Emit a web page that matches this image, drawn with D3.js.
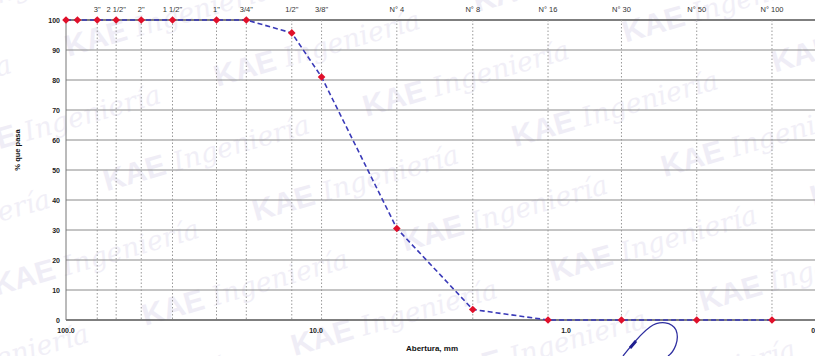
<!DOCTYPE html>
<html>
<head>
<meta charset="utf-8">
<script src="https://cdn.jsdelivr.net/npm/d3@7"></script>
<style>
body { margin: 0; background: #fff; }
svg { display: block; font-family: "Liberation Sans", Arial, sans-serif; }
</style>
</head>
<body>
<div id="chart"></div>
<script>
// sieve openings (mm) and % passing
var aberturas = [100, 90, 75, 63, 50, 37.5, 25, 19, 12.5, 9.5, 4.75, 2.36, 1.18, 0.6, 0.3, 0.15];
var pasa = [100, 100, 100, 100, 100, 100, 100, 100, 95.7, 81, 30.5, 3.5, 0, 0, 0, 0];

// named sieves on the top axis
var tamices = [75, 63, 50, 37.5, 25, 19, 12.5, 9.5, 4.75, 2.36, 1.18, 0.6, 0.3, 0.15];
var tamizLabels = ['3"', '2 1/2"', '2"', '1 1/2"', '1"', '3/4"', '1/2"', '3/8"',
    "N° 4", "N° 8", "N° 16", "N° 30", "N° 50", "N° 100"];

var xTicks = [100, 10, 1, 0.1];
var yTicks = [0, 10, 20, 30, 40, 50, 60, 70, 80, 90, 100];

var width = 815, height = 356;
var margin = {top: 20, left: 66, bottom: 36};

var x = d3.scaleLog()
    .domain([100, 0.1])
    .range([margin.left, margin.left + 750]);

var y = d3.scaleLinear()
    .domain([0, 100])
    .range([height - margin.bottom, margin.top]);

var svg = d3.select("#chart")
    .append("svg")
    .attr("width", width)
    .attr("height", height);

// watermark, kept inside the picture
svg.append("clipPath")
    .attr("id", "wmclip")
    .append("rect")
    .attr("width", width)
    .attr("height", height);

var wm = svg.append("g")
    .attr("clip-path", "url(#wmclip)")
    .append("g")
    .attr("transform", "rotate(-16 400 180)")
    .style("pointer-events", "none");
for (var r = -2; r < 7; r++) {
    for (var c = -1; c < 5; c++) {
        var ox = c * 270 + (r % 2 ? 135 : 0) - 20;
        var oy = r * 70 + 40;
        wm.append("text")
            .attr("x", ox)
            .attr("y", oy)
            .attr("font-size", 30)
            .attr("font-weight", "bold")
            .attr("fill", "#efedf6")
            .text("KAE");
        wm.append("text")
            .attr("x", ox + 72)
            .attr("y", oy)
            .attr("font-size", 27)
            .attr("font-style", "italic")
            .attr("font-family", "DejaVu Serif, serif")
            .attr("fill", "#f1eff7")
            .text("Ingeniería");
    }
}

// horizontal grid
svg.append("g")
    .selectAll("line")
    .data(yTicks)
    .enter()
    .append("line")
    .attr("x1", margin.left)
    .attr("x2", width)
    .attr("y1", function(d) { return y(d); })
    .attr("y2", function(d) { return y(d); })
    .attr("stroke", function(d) { return d == 0 || d == 100 ? "#555" : "#8a8a8a"; })
    .attr("stroke-width", function(d) { return d == 0 || d == 100 ? 1.4 : 1; });

// vertical dotted sieve lines
svg.append("g")
    .selectAll("line")
    .data(tamices)
    .enter()
    .append("line")
    .attr("x1", function(d) { return x(d); })
    .attr("x2", function(d) { return x(d); })
    .attr("y1", y(100))
    .attr("y2", y(0))
    .attr("stroke", "#999")
    .attr("stroke-dasharray", "1.5,2");

// left axis line
svg.append("line")
    .attr("x1", margin.left)
    .attr("x2", margin.left)
    .attr("y1", y(100))
    .attr("y2", y(0))
    .attr("stroke", "#777")
    .attr("stroke-width", 1);

// top sieve labels
svg.append("g")
    .selectAll("text")
    .data(tamices)
    .enter()
    .append("text")
    .attr("x", function(d) { return x(d); })
    .attr("y", 12)
    .attr("text-anchor", "middle")
    .attr("font-size", 7.5)
    .attr("fill", "#333")
    .text(function(d, i) { return tamizLabels[i]; });

// y tick labels
svg.append("g")
    .selectAll("text")
    .data(yTicks)
    .enter()
    .append("text")
    .attr("x", 60)
    .attr("y", function(d) { return y(d) + 2.5; })
    .attr("text-anchor", "end")
    .attr("font-size", 7)
    .attr("font-weight", "bold")
    .attr("fill", "#222")
    .text(function(d) { return d; });

// x tick labels
svg.append("g")
    .selectAll("text")
    .data(xTicks)
    .enter()
    .append("text")
    .attr("x", function(d) { return x(d); })
    .attr("y", 333)
    .attr("text-anchor", "middle")
    .attr("font-size", 7)
    .attr("font-weight", "bold")
    .attr("fill", "#222")
    .text(function(d) { return d.toFixed(1); });

// axis titles
svg.append("text")
    .attr("x", 432)
    .attr("y", 351)
    .attr("text-anchor", "middle")
    .attr("font-size", 8)
    .attr("font-weight", "bold")
    .attr("fill", "#111")
    .text("Abertura, mm");

svg.append("text")
    .attr("transform", "translate(20,150) rotate(-90)")
    .attr("text-anchor", "middle")
    .attr("font-size", 7.5)
    .attr("font-weight", "bold")
    .attr("fill", "#111")
    .text("% que pasa");

// curve
var line = d3.line()
    .x(function(d, i) { return x(aberturas[i]); })
    .y(function(d) { return y(d); });

svg.append("path")
    .datum(pasa)
    .attr("d", line)
    .attr("fill", "none")
    .attr("stroke", "#3a3ab8")
    .attr("stroke-width", 1.6)
    .attr("stroke-dasharray", "5,3");

svg.append("g")
    .selectAll("rect")
    .data(pasa)
    .enter()
    .append("rect")
    .attr("x", function(d, i) { return x(aberturas[i]) - 2.7; })
    .attr("y", function(d) { return y(d) - 2.7; })
    .attr("width", 5.4)
    .attr("height", 5.4)
    .attr("transform", function(d, i) {
        return "rotate(45 " + x(aberturas[i]) + " " + y(d) + ")";
    })
    .attr("fill", "#e0102a");

// signature scribble
svg.append("path")
    .attr("d", "M623,356 C632,345 640,334 650,327 C660,320 672,322 676,330 C680,340 674,352 668,356")
    .attr("fill", "none")
    .attr("stroke", "#2f2fa0")
    .attr("stroke-width", 1.3);
svg.append("path")
    .attr("d", "M630,348 L636,341")
    .attr("stroke", "#1f1f90")
    .attr("stroke-width", 3);
</script>
</body>
</html>
